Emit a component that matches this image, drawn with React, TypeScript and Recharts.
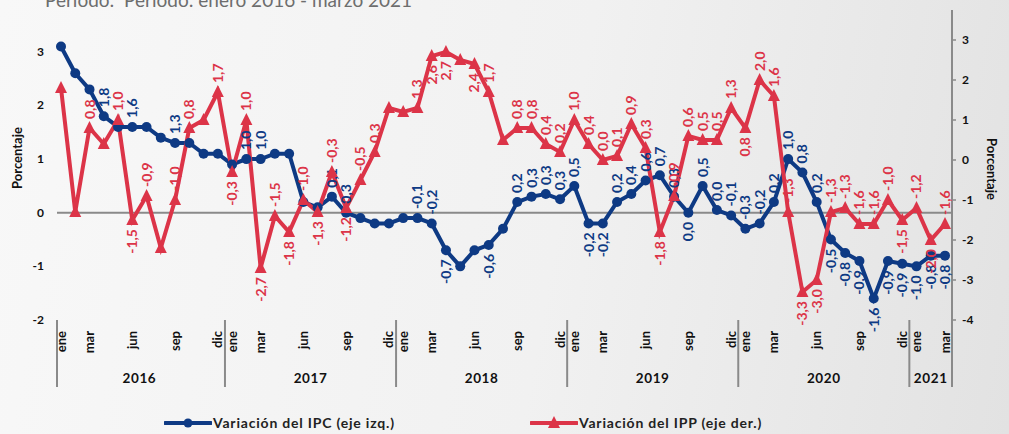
import React from "react";
import { ComposedChart, Line, XAxis, YAxis, ReferenceLine, Legend } from "recharts";

const W = 1009;
const H = 434;
const PLOT = { left: 57, right: 952, top: 10, bottom: 320 };
const LEFT_AXIS_W = 30;
const RIGHT_AXIS_W = 40;
const X_AXIS_H = 70;
const M = {
  top: PLOT.top,
  left: PLOT.left - LEFT_AXIS_W,
  right: W - PLOT.right - RIGHT_AXIS_W,
  bottom: H - PLOT.bottom - X_AXIS_H,
};
const PAD = { left: 4, right: 7 };

const BLUE = "#0e3a84";
const RED = "#dc3448";
const GREY = "#8a8a8a";
const FONT = "Lato, 'Open Sans', sans-serif";

const monthNames = ["ene", "feb", "mar", "abr", "may", "jun", "jul", "ago", "sep", "oct", "nov", "dic"];
const shownMonths = ["ene", "mar", "jun", "sep", "dic"];
const years = [2016, 2017, 2018, 2019, 2020, 2021];
const monthsInLastYear = 3;

// variación interanual del IPC (eje izq.)
const ipc = [
  3.1, 2.6, 2.3, 1.8, 1.6, 1.6, 1.6, 1.4, 1.3, 1.3, 1.1, 1.1,
  0.9, 1.0, 1.0, 1.1, 1.1, 0.2, 0.1, 0.3, 0.0, -0.1, -0.2, -0.2,
  -0.1, -0.1, -0.2, -0.7, -1.0, -0.7, -0.6, -0.3, 0.2, 0.3, 0.35, 0.25,
  0.5, -0.2, -0.2, 0.2, 0.35, 0.6, 0.7, 0.3, 0.0, 0.5, 0.05, -0.05,
  -0.3, -0.2, 0.2, 1.0, 0.75, 0.2, -0.5, -0.75, -0.9, -1.6, -0.9, -0.95,
  -1.0, -0.8, -0.8,
];

// variación interanual del IPP (eje der.)
const ipp = [
  1.8, -1.3, 0.8, 0.4, 1.0, -1.5, -0.9, -2.2, -1.0, 0.8, 1.0, 1.7,
  -0.3, 1.0, -2.7, -1.4, -1.8, -1.0, -1.3, -0.3, -1.2, -0.5, 0.2, 1.3,
  1.2, 1.3, 2.6, 2.7, 2.5, 2.4, 1.7, 0.5, 0.8, 0.8, 0.4, 0.2,
  1.0, 0.4, 0.0, 0.1, 0.9, 0.3, -1.8, -0.9, 0.6, 0.5, 0.5, 1.3,
  0.8, 2.0, 1.6, -1.3, -3.3, -3.0, -1.3, -1.2, -1.6, -1.6, -1.0, -1.5,
  -1.2, -2.0, -1.6,
];

const ipcLabels: (string | null)[] = [
  null, null, null, "1,8", null, "1,6", null, null, "1,3", null, null, null,
  null, "1,0", "1,0", null, null, null, null, "0,1", "0,3", null, null, null,
  null, "-0,1", "-0,2", "-0,7", null, null, "-0,6", null, "0,2", "0,3", "0,3", "0,3",
  "0,5", "-0,2", "-0,2", "0,2", "0,4", "0,6", "0,7", "0,3", "0,0", "0,5", "0,0", "-0,1",
  "-0,3", "-0,2", "0,2", "1,0", "0,8", "0,2", "-0,5", "-0,8", "-0,9", "-1,6", "-0,9", "-0,9",
  "-1,0", "-0,8", "-0,8",
];

const ippLabels: (string | null)[] = [
  null, null, "0,8", null, "1,0", "-1,5", "-0,9", null, "-1,0", "0,8", null, "1,7",
  "-0,3", "1,0", "-2,7", "-1,5", "-1,8", "-1,0", "-1,3", "-0,3", "-1,2", "-0,5", "0,3", null,
  null, "1,3", "2,6", "2,7", null, "2,4", "1,7", null, "0,8", "0,8", "0,4", "0,2",
  "1,0", "0,4", "0,0", "0,1", "0,9", "0,3", "-1,8", "-0,9", "0,6", "0,5", "0,5", "1,3",
  "0,8", "2,0", "1,6", "-1,3", "-3,3", "-3,0", "-1,3", "-1,3", "-1,6", "-1,6", "-1,0", "-1,5",
  "-1,2", "-2,0", "-1,6",
];

const leftTicks = [-2, -1, 0, 1, 2, 3];
const rightTicks = [-4, -3, -2, -1, 0, 1, 2, 3];

const data = years
  .flatMap((yr, yi) =>
    monthNames
      .slice(0, yi === years.length - 1 ? monthsInLastYear : 12)
      .map((m) => ({ key: `${m} ${yr}`, month: m, year: yr }))
  )
  .map((d, i) => ({ ...d, ipc: ipc[i], ipp: ipp[i] }));

const step = (PLOT.right - PLOT.left - PAD.left - PAD.right) / (data.length - 1);

const ipcBelow = (i: number) => {
  const v = ipc[i], p = ipc[i - 1] ?? v, n = ipc[i + 1] ?? v;
  return v < -0.4 || (v <= p && v <= n && Math.max(p - v, n - v) >= 0.3);
};
const ippBelow = (i: number) => {
  const v = ipp[i], p = ipp[i - 1], n = ipp[i + 1];
  return v >= 2.2 || v <= -2.5 || ((p === undefined || v + 0.25 < p) && (n === undefined || v + 0.25 < n));
};

const DataLabel = ({ cx, cy, text, below, color }: any) => {
  const x = cx + 5;
  const y = below ? cy + 9 : cy - 9;
  return (
    <text
      x={x}
      y={y}
      transform={`rotate(-90 ${x} ${y})`}
      textAnchor={below ? "end" : "start"}
      fill={color}
      fontFamily={FONT}
      fontWeight={700}
      fontSize={14}
    >
      {text}
    </text>
  );
};

const IpcDot = (props: any) => {
  const { cx, cy, index } = props;
  if (cx == null || cy == null) return <g key={`ipc-${index}`} />;
  const text = ipcLabels[index];
  return (
    <g key={`ipc-${index}`}>
      <circle cx={cx} cy={cy} r={5} fill={BLUE} />
      {text && <DataLabel cx={cx} cy={cy} text={text} below={ipcBelow(index)} color={BLUE} />}
    </g>
  );
};

const IppDot = (props: any) => {
  const { cx, cy, index } = props;
  if (cx == null || cy == null) return <g key={`ipp-${index}`} />;
  const text = ippLabels[index];
  return (
    <g key={`ipp-${index}`}>
      <polygon points={`${cx},${cy - 7} ${cx + 6},${cy + 5} ${cx - 6},${cy + 5}`} fill={RED} />
      {text && <DataLabel cx={cx} cy={cy} text={text} below={ippBelow(index)} color={RED} />}
    </g>
  );
};

const MonthTick = (props: any) => {
  const { x, payload } = props;
  const i = data.findIndex((d) => d.key === payload.value);
  if (i < 0) return null;
  const d = data[i];
  const ty = PLOT.bottom + 11;
  const tx = x + 4.5;
  const yearCount = data.filter((e) => e.year === d.year).length;
  const sepX = Math.max(PLOT.left, x - step / 2);
  return (
    <g>
      {shownMonths.includes(d.month) && (
        <text
          x={tx}
          y={ty}
          transform={`rotate(-90 ${tx} ${ty})`}
          textAnchor="end"
          fontFamily={FONT}
          fontWeight={700}
          fontSize={13}
          fill="#111"
        >
          {d.month}
        </text>
      )}
      {d.month === "ene" && (
        <>
          <line x1={sepX} x2={sepX} y1={PLOT.bottom} y2={PLOT.bottom + 67} stroke={GREY} strokeWidth={2} />
          <text
            x={x + ((yearCount - 1) / 2) * step}
            y={PLOT.bottom + 63}
            textAnchor="middle"
            fontFamily={FONT}
            fontWeight={700}
            fontSize={13.5}
            letterSpacing={0.6}
            fill="#111"
          >
            {d.year}
          </text>
        </>
      )}
      {i === data.length - 1 && (
        <line x1={PLOT.right} x2={PLOT.right} y1={PLOT.bottom} y2={PLOT.bottom + 67} stroke={GREY} strokeWidth={2} />
      )}
    </g>
  );
};

const LeftTick = ({ y, payload }: any) => (
  <text x={44} y={y} dy={4} textAnchor="end" fontFamily={FONT} fontWeight={700} fontSize={12} fill="#111">
    {payload.value}
  </text>
);

const RightTick = ({ y, payload }: any) => (
  <text x={962} y={y} dy={4} textAnchor="start" fontFamily={FONT} fontWeight={700} fontSize={12} fill="#111">
    {payload.value}
  </text>
);

const legendText = { position: "absolute" as const, top: 1, letterSpacing: 0.8, whiteSpace: "nowrap" as const };

const LegendBox = () => (
  <div style={{ position: "relative", width: W, height: 20, fontFamily: FONT, fontWeight: 700, fontSize: 14, color: "#222" }}>
    <svg width={48} height={20} style={{ position: "absolute", left: 164, top: 0 }}>
      <line x1={1} x2={47} y1={10} y2={10} stroke={BLUE} strokeWidth={4} strokeLinecap="round" />
      <circle cx={24} cy={10} r={4.5} fill={BLUE} />
    </svg>
    <span style={{ ...legendText, left: 213 }}>Variación del IPC (eje izq.)</span>
    <svg width={48} height={20} style={{ position: "absolute", left: 530, top: 0 }}>
      <line x1={1} x2={47} y1={10} y2={10} stroke={RED} strokeWidth={4} strokeLinecap="round" />
      <polygon points="24,3 30,15 18,15" fill={RED} />
    </svg>
    <span style={{ ...legendText, left: 579 }}>Variación del IPP (eje der.)</span>
  </div>
);

const axisTitle = (x: number, y: number, angle: number) => () => (
  <text x={x} y={y} transform={`rotate(${angle} ${x} ${y})`} textAnchor="middle" fontFamily={FONT} fontWeight={700} fontSize={13} fill="#111">
    Porcentaje
  </text>
);

export default function App() {
  return (
    <div
      style={{
        position: "absolute",
        left: 0,
        top: 0,
        width: W,
        height: H,
        overflow: "hidden",
        background: "linear-gradient(100deg, #f8f8f8 0%, #f1f1f1 55%, #e2e2e2 100%)",
      }}
    >
      <div
        style={{
          position: "absolute",
          left: 45,
          top: -10,
          fontFamily: FONT,
          fontSize: 19,
          lineHeight: "19px",
          color: "#6d6d6d",
          whiteSpace: "pre",
        }}
      >
        {"Período:  Período: enero 2016 - marzo 2021"}
      </div>
      <ComposedChart width={W} height={H} data={data} margin={M} style={{ position: "absolute", left: 0, top: 0 }}>
        <XAxis
          dataKey="key"
          height={X_AXIS_H}
          axisLine={false}
          tickLine={false}
          interval={0}
          padding={PAD}
          tick={<MonthTick />}
        />
        <YAxis
          yAxisId="left"
          width={LEFT_AXIS_W}
          domain={[-2, 3.78]}
          ticks={leftTicks}
          axisLine={false}
          tickLine={false}
          tick={<LeftTick />}
          label={{ value: "Porcentaje", content: axisTitle(22, 158, -90) }}
        />
        <YAxis
          yAxisId="right"
          orientation="right"
          width={RIGHT_AXIS_W}
          domain={[-4, 3.75]}
          ticks={rightTicks}
          axisLine={{ stroke: GREY, strokeWidth: 2 }}
          tickLine={{ stroke: GREY, strokeWidth: 1.5 }}
          tickSize={4}
          tick={<RightTick />}
          label={{ value: "Porcentaje", content: axisTitle(987, 169, 90) }}
        />
        <ReferenceLine yAxisId="left" y={0} stroke={GREY} strokeWidth={2} />
        <Line
          yAxisId="left"
          dataKey="ipc"
          type="linear"
          stroke={BLUE}
          strokeWidth={4}
          dot={(p: any) => <IpcDot key={`ipc-${p.index}`} {...p} />}
          activeDot={false}
          isAnimationActive={false}
        />
        <Line
          yAxisId="right"
          dataKey="ipp"
          type="linear"
          stroke={RED}
          strokeWidth={4}
          dot={(p: any) => <IppDot key={`ipp-${p.index}`} {...p} />}
          activeDot={false}
          isAnimationActive={false}
        />
        <Legend
          layout="horizontal"
          verticalAlign="middle"
          align="center"
          content={() => <LegendBox />}
          wrapperStyle={{ position: "absolute", left: 0, top: 413, width: W, height: 20 }}
        />
      </ComposedChart>
    </div>
  );
}
